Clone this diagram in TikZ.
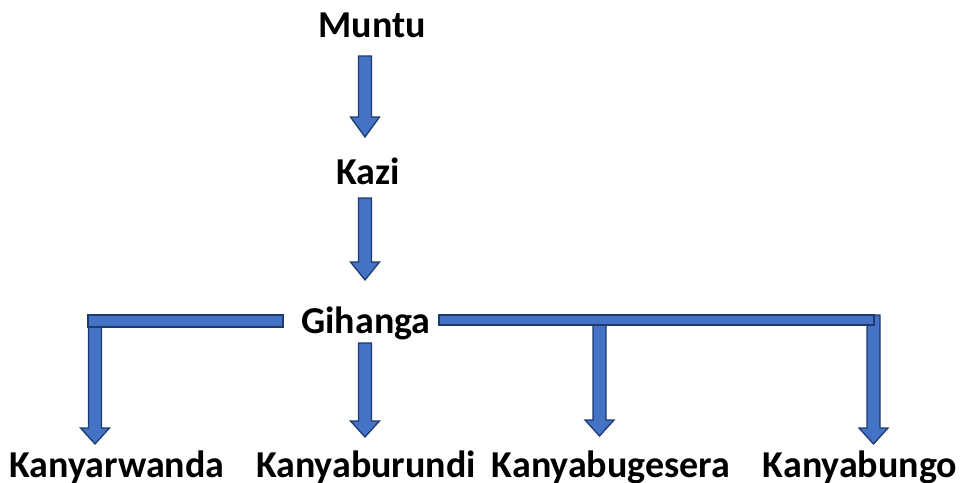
\documentclass[tikz,border=0pt]{standalone}
\usepackage{fontspec}
\setmainfont{Carlito}
\definecolor{arrfill}{HTML}{4472C4}
\definecolor{arrline}{HTML}{1F3A6E}
\tikzset{
  lbl/.style={font=\fontsize{38}{40}\selectfont\bfseries, inner sep=0pt, anchor=base},
  blk/.style={fill=arrfill, draw=arrline, line width=1.3pt, line join=miter},
}
% x center, y top, y tip, head length
\newcommand\blockdown[4]{%
  \filldraw[blk] (#1-6.5,#2) -- (#1+6.5,#2) -- (#1+6.5,#3-#4) -- (#1+14.5,#3-#4)
    -- (#1,#3) -- (#1-14.5,#3-#4) -- (#1-6.5,#3-#4) -- cycle;}
\begin{document}
\begin{tikzpicture}[x=1pt,y=-1pt]
\useasboundingbox (0,0) rectangle (961,482);
\node[lbl] (muntu) at (372,37) {Muntu};
\node[lbl] (kazi) at (368,184) {Kazi};
\node[lbl] (gihanga) at (366,333) {Gihanga};
\node[lbl] (k1) at (117,477) {Kanyarwanda};
\node[lbl] (k2) at (366,477) {Kanyaburundi};
\node[lbl] (k3) at (611,477) {Kanyabugesera};
\node[lbl] (k4) at (860,477) {Kanyabungo};
% vertical arrows
\blockdown{365}{56}{137}{20}
\blockdown{365}{198}{280}{18}
\blockdown{365}{343}{437}{16}
% left branch
\blockdown{95}{315}{444}{16}
\filldraw[blk] (88,315) rectangle (283,327);
% right branch
\blockdown{599.5}{325}{436}{16}
\blockdown{873.5}{315}{444}{16}
\filldraw[blk] (439,315) rectangle (874,325);
\end{tikzpicture}
\end{document}
